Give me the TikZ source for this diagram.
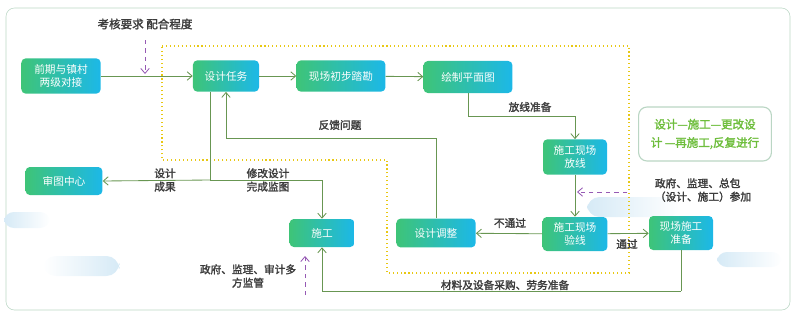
\documentclass[tikz,border=0pt]{standalone}
\usepackage{fontspec}
\setmainfont{Noto Sans CJK SC}[AutoFakeBold=2]
\definecolor{linegreen}{RGB}{104,150,82}
\definecolor{boxgreen}{RGB}{62,196,120}
\definecolor{boxcyan}{RGB}{28,184,232}
\definecolor{labelgray}{RGB}{60,60,60}
\definecolor{notegreen}{RGB}{110,190,60}
\definecolor{framegray}{RGB}{186,214,196}
\definecolor{checkpurple}{RGB}{150,90,180}
\definecolor{dotyellow}{RGB}{232,200,20}
\definecolor{blobblue}{RGB}{214,234,246}
\usetikzlibrary{arrows.meta,calc}
\tikzset{
  procbox/.style={rounded corners=3pt, left color=boxgreen, right color=boxcyan,
    text=white, font=\fontsize{7.6}{9}\selectfont, align=center, inner sep=1pt},
  flow/.style={linegreen, semithick, -{Straight Barb[length=3.5pt,width=6pt]}},
  plainflow/.style={linegreen, semithick},
  checkin/.style={checkpurple, semithick, dashed, -{Straight Barb[length=3.5pt,width=6pt]}},
  tag/.style={text=labelgray, font=\bfseries\fontsize{7.6}{9.5}\selectfont, align=center, inner sep=1pt}
}
\begin{document}
\begin{tikzpicture}[x=0.025cm, y=-0.025cm]
  \useasboundingbox (0,0) rectangle (800,316);
  % frame and background
  \draw[framegray, rounded corners=6pt] (6,8) rectangle (790,310);
  \shade[left color=blobblue, right color=white, rounded corners=7pt] (4,212) rectangle (50,228);
  \shade[left color=white, right color=blobblue, rounded corners=9pt] (43,256) rectangle (119,276);
  \shade[left color=blobblue, right color=white, rounded corners=9pt] (587,197) rectangle (680,217);
  \shade[left color=blobblue, right color=white, rounded corners=7pt] (717,252) rectangle (782,267);
  \draw[dotyellow, thick, dotted] (162,46) -- (629,46) -- (629,273) -- (387,273)
    -- (387,160) -- (162,160) -- cycle;

  % process boxes
  \node[procbox, minimum width=1.98cm, minimum height=0.88cm] (start) at (61,76) {前期与镇村\\两级对接};
  \node[procbox, minimum width=1.65cm, minimum height=0.78cm] (task) at (226,76) {设计任务};
  \node[procbox, minimum width=2.22cm, minimum height=0.78cm] (survey) at (341,76) {现场初步踏勘};
  \node[procbox, minimum width=2.22cm, minimum height=0.80cm] (plan) at (468,77) {绘制平面图};
  \node[procbox, minimum width=1.60cm, minimum height=0.88cm] (layout) at (575,157) {施工现场\\放线};
  \node[procbox, minimum width=1.92cm, minimum height=0.70cm] (review) at (64,181) {审图中心};
  \node[procbox, minimum width=1.62cm, minimum height=0.70cm] (build) at (322,233) {施工};
  \node[procbox, minimum width=1.98cm, minimum height=0.72cm] (adjust) at (436,233) {设计调整};
  \node[procbox, minimum width=1.62cm, minimum height=0.85cm] (verify) at (575,234) {施工现场\\验线};
  \node[procbox, minimum width=1.60cm, minimum height=0.85cm] (prep) at (681,233) {现场施工\\准备};
  \node[draw=framegray, thick, rounded corners=6pt, fill=white, text=notegreen,
    font=\bfseries\fontsize{8.2}{13}\selectfont, align=center,
    minimum width=3.32cm, minimum height=1.35cm] (note) at (705,134) {设计—施工—更改设\\计 —再施工,反复进行};

  % connectors
  \coordinate (tsplit) at (210,180);
  \coordinate (planturn) at (468,116);
  \coordinate (backturn) at (436,138);
  \coordinate (prepturn) at (681,291);
  \draw[flow] (start) -- (task);
  \draw[flow] (task) -- (survey);
  \draw[flow] (survey) -- (plan);
  \draw[plainflow] (plan.south) -- (planturn);
  \draw[flow] (planturn) -| (layout.north);
  \draw[flow] (layout) -- (verify);
  \draw[flow] (verify) -- (adjust);
  \draw[flow] (verify) -- (prep);
  \draw[plainflow] (adjust.north) -- (backturn);
  \draw[flow] (backturn) -| (task.south);
  \draw[plainflow] (task.south -| tsplit) -- (tsplit);
  \draw[flow] (tsplit) -- (review.east);
  \draw[flow] (tsplit) -| (build.north);
  \draw[plainflow] (prep.south) -- (prepturn);
  \draw[flow] (prepturn) -| (build.south);

  % inspection inputs
  \coordinate (examtop) at (145,40);
  \coordinate (examend) at (145,74);
  \coordinate (supbot) at (305,295);
  \coordinate (supend) at (305,256);
  \coordinate (joinright) at (627,192);
  \coordinate (joinend) at (577,192);
  \draw[checkin] (examtop) -- (examend);
  \draw[checkin] (supbot) -- (supend);
  \draw[checkin] (joinright) -- (joinend);

  % labels
  \node[tag, font=\bfseries\fontsize{8.2}{10}\selectfont] (examtag) at (145,24) {考核要求 配合程度};
  \node[tag] (backtag) at (340,125) {反馈问题};
  \node[tag] (plantag) at (530,107) {放线准备};
  \node[tag] (resulttag) at (165,180) {设计\\成果};
  \node[tag] (revisetag) at (268,180) {修改设计\\完成监图};
  \node[tag] (suptag) at (248,276) {政府、监理、审计多\\方监管};
  \node[tag] (failtag) at (510,223) {不通过};
  \node[tag] (passtag) at (627,244) {通过};
  \node[tag, align=left] (jointag) at (703,190) {政府、监理、总包\\（设计、施工）参加};
  \node[tag] (buytag) at (505,285) {材料及设备采购、劳务准备};
\end{tikzpicture}
\end{document}
